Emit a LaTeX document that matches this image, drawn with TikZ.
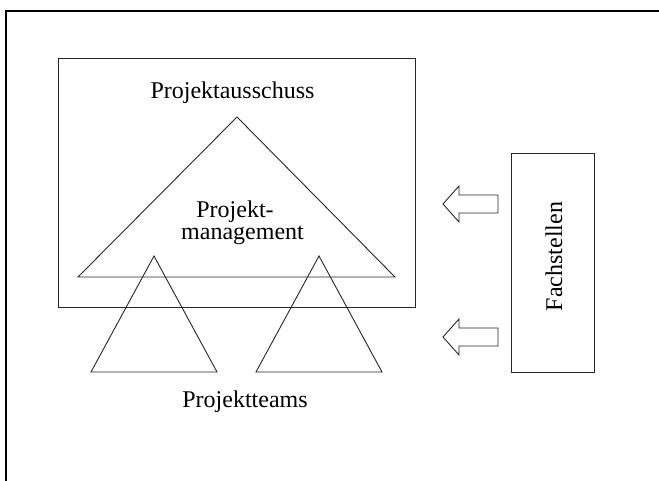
\documentclass[tikz,border=0pt]{standalone}
\usepackage{fontspec}
\setmainfont{Liberation Serif}
\begin{document}
\begin{tikzpicture}[x=1pt,y=-1pt,
  shp/.style={draw=black!85, line width=0.9pt},
  lbl/.style={font=\fontsize{24}{23}\selectfont, inner sep=0pt, anchor=base}]
\useasboundingbox (0,0) rectangle (659,481);
% outer frame (only left and top edges visible)
\coordinate (fb) at (6.2,490);
\coordinate (fc) at (6.2,11.3);
\coordinate (fr) at (670,11.3);
\draw[line width=2.3pt] (fb) -- (fc) -- (fr);
% Projektausschuss box
\draw[shp] (58,58) rectangle (415,307);
% Projektmanagement triangle
\draw[shp] (237,117) -- (78,277) -- (395,277) -- cycle;
% Projektteams triangles
\draw[shp] (154,256) -- (91,372) -- (217,372) -- cycle;
\draw[shp] (319,256) -- (256,372) -- (382,372) -- cycle;
% Fachstellen box
\draw[shp] (511,153) rectangle (594,372);
% block arrows
\draw[shp] (443,204) -- (459,186) -- (459,195) -- (498,195) -- (498,213) -- (459,213) -- (459,222) -- cycle;
\draw[shp] (443,337) -- (459,319) -- (459,328) -- (498,328) -- (498,346) -- (459,346) -- (459,355) -- cycle;
% texts
\node[lbl] (pa) at (232.5,99) {Projektausschuss};
\node[lbl] (pm1) at (235,217.5) {Projekt-};
\node[lbl] (pm2) at (242.5,240) {management};
\node[lbl] (pt) at (245,407) {Projektteams};
\node[lbl, rotate=90] (fs) at (562,256.5) {Fachstellen};
\end{tikzpicture}
\end{document}
